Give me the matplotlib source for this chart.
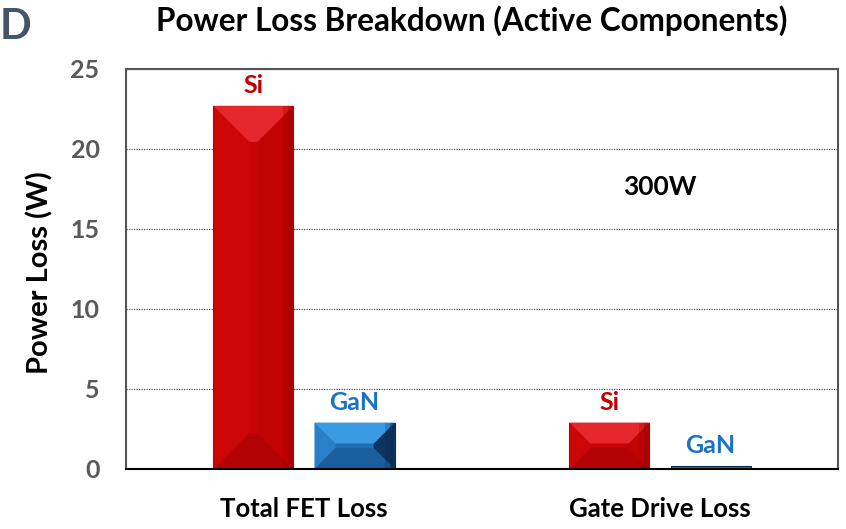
import numpy as np
import matplotlib.pyplot as plt
from matplotlib.patches import Polygon

categories = ['Total FET Loss', 'Gate Drive Loss']
si_loss = [22.7, 2.9]
gan_loss = [2.9, 0.2]
series_names = ['Si', 'GaN']
yticks = [0, 5, 10, 15, 20, 25]

plt.rcParams['font.family'] = ['Lato', 'DejaVu Sans']
plt.rcParams['font.weight'] = 'bold'

fig = plt.figure(figsize=(8.46, 5.29), dpi=100)
ax = fig.add_axes([126/846, 1-469/529, 712/846, 400/529])

x = np.arange(len(categories))
w = 0.225
off = 0.142
red = {'face': '#C80406', 'top': '#E5262C', 'bot': '#B30304', 'left': '#CC0507', 'right': '#C20304', 'edge': '#A00000'}
blue = {'face': '#1F6FB6', 'top': '#3A9BE3', 'bot': '#1A5D9C', 'left': '#2A7FC8', 'right': '#0D355F', 'edge': '#0A2C50'}

bars_si = ax.bar(x - off, si_loss, w, color=red['face'], edgecolor=red['edge'], linewidth=0.8, zorder=3)
bars_gan = ax.bar(x + off, gan_loss, w, color=blue['face'], edgecolor=blue['edge'], linewidth=0.8, zorder=3)

ax.set_xlim(-0.5, 1.5)
ax.set_ylim(0, 25)

# bevel look, computed from each bar's own geometry
def bevel(bars, c):
    inv = ax.transData.inverted()
    for b in bars:
        (x0, y0), (x1, y1) = ax.transData.transform([(b.get_x(), 0), (b.get_x() + b.get_width(), b.get_height())])
        d = min((x1 - x0) / 2, (y1 - y0) / 2) * 0.9
        if d < 2:
            continue
        xm = (x0 + x1) / 2
        o = [(x0, y0), (x1, y0), (x1, y1), (x0, y1)]
        i = [(min(x0 + d, xm), y0 + d), (max(x1 - d, xm), y0 + d), (max(x1 - d, xm), y1 - d), (min(x0 + d, xm), y1 - d)]
        parts = [([o[0], o[3], i[3], i[0]], c['left']),
                 ([o[1], o[2], i[2], i[1]], c['right']),
                 ([o[3], o[2], i[2], i[3]], c['top']),
                 ([o[0], o[1], i[1], i[0]], c['bot'])]
        for pts, col in parts:
            ax.add_patch(Polygon(inv.transform(pts), closed=True, facecolor=col, edgecolor='none', zorder=4))
        # darker right rim
        for k, a in [(10, 0.25), (5, 0.45)]:
            rim = [(x1 - k, y0), (x1, y0), (x1, y1), (x1 - k, y1)]
            ax.add_patch(Polygon(inv.transform(rim), closed=True, facecolor=c['edge'], edgecolor='none', alpha=a, zorder=4))

bevel(bars_si, red)
bevel(bars_gan, blue)

for b in bars_si:
    ax.text(b.get_x() + b.get_width() / 2, b.get_height() + 0.55, series_names[0], ha='center', va='bottom',
            color='#C00000', fontsize=18, fontweight='bold', zorder=5)
for b in bars_gan:
    ax.text(b.get_x() + b.get_width() / 2, b.get_height() + 0.55, series_names[1], ha='center', va='bottom',
            color='#1A72C4', fontsize=18, fontweight='bold', zorder=5)

ax.text(1.0, 17.6, '300W', ha='center', va='center', fontsize=19, fontweight='bold', color='black')

ax.set_yticks(yticks)
ax.set_yticklabels([str(t) for t in yticks], color='#595959', fontsize=18, fontweight='bold')
ax.set_xticks(x)
ax.set_xticklabels(categories, fontsize=18.5, fontweight='bold', color='black')
ax.tick_params(axis='both', length=0)
ax.tick_params(axis='y', pad=19)
ax.tick_params(axis='x', pad=20)

ax.grid(axis='y', linestyle=(0, (1, 1)), color='#555555', linewidth=0.9, zorder=0)
for s in ['left', 'top', 'right']:
    ax.spines[s].set_linestyle((0, (1, 1)))
    ax.spines[s].set_color('#555555')
    ax.spines[s].set_linewidth(1.5)
ax.spines['bottom'].set_color('black')
ax.spines['bottom'].set_linewidth(1.5)
ax.spines['bottom'].set_zorder(6)

ax.set_ylabel('Power Loss (W)', fontsize=21, fontweight='bold', color='black')
ax.yaxis.set_label_coords(-0.1025, 0.49)

fig.text(472/846, 1-21/529, 'Power Loss Breakdown (Active Components)', ha='center', va='center',
         fontsize=22.7, fontweight='bold', color='black')
fig.text(0.0, 1-27/529, 'D', ha='left', va='center', fontsize=30, color='#44546A', fontweight='bold')

fig.savefig('out.png', dpi=100)
